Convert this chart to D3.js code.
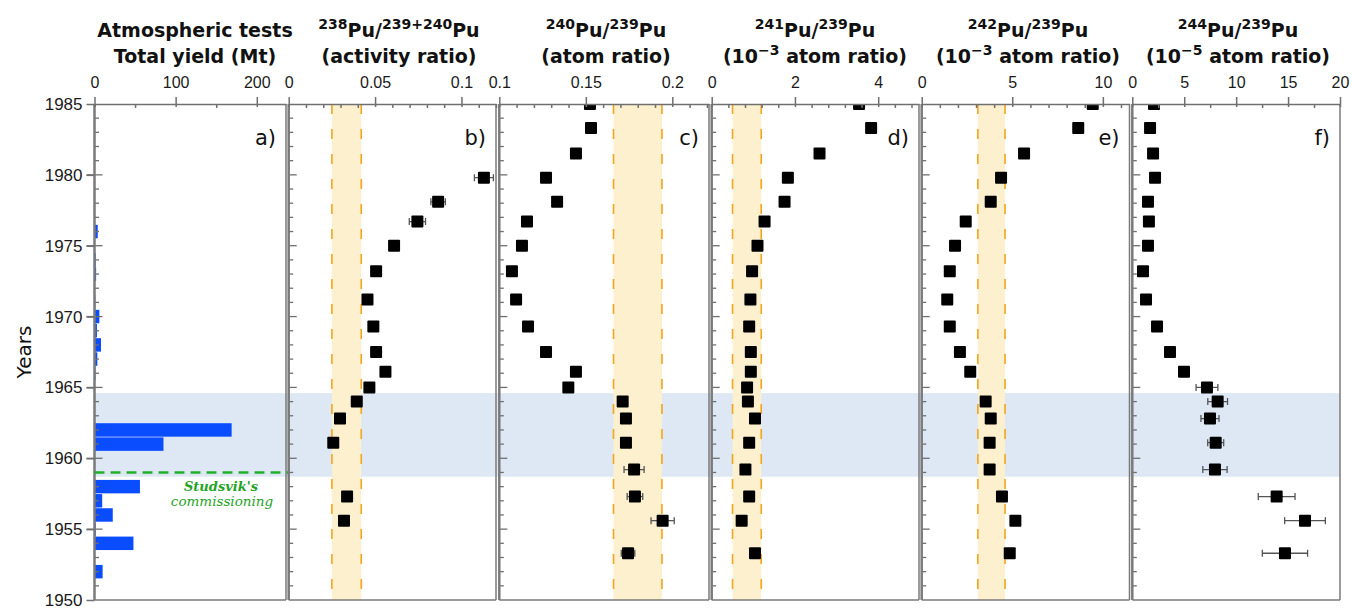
<!DOCTYPE html>
<html>
<head>
<meta charset="utf-8">
<script src="https://cdn.jsdelivr.net/npm/d3@7"></script>
<style>
  body { margin: 0; background: #fff; }
  svg { display: block; font-family: "DejaVu Sans", sans-serif; }
  .axis path, .axis line { stroke: #6f6f6f; stroke-width: 1.5; }
  .axis text { font-size: 16px; fill: #1a1a1a; }
  .title { font-size: 19px; font-weight: bold; fill: #111; }
</style>
</head>
<body>
<svg id="chart" width="1352" height="608"></svg>
<script>
var sampleYears = [1985.0, 1983.3, 1981.5, 1979.8, 1978.1, 1976.7, 1975.0, 1973.2, 1971.2, 1969.3,
                   1967.5, 1966.1, 1965.0, 1964.0, 1962.8, 1961.1, 1959.2, 1957.3, 1955.6, 1953.3];

var pu238Ratio = [null, null, null, 0.113, 0.0865, 0.0745, 0.061, 0.0506, 0.0456, 0.049,
                  0.0506, 0.056, 0.0467, 0.0394, 0.0297, 0.0258, null, 0.0338, 0.032, null];
var pu238Err   = [0, 0, 0, 0.0055, 0.0042, 0.0047, 0, 0, 0, 0, 0, 0, 0, 0, 0, 0, 0, 0.002, 0.002, 0];

var pu240Ratio = [0.1524, 0.153, 0.1443, 0.127, 0.1334, 0.116, 0.1131, 0.1073, 0.1097, 0.1166,
                  0.127, 0.1443, 0.1399, 0.1713, 0.1732, 0.1732, 0.1779, 0.1784, 0.1944, 0.1744];
var pu240Err   = [0, 0, 0, 0, 0, 0, 0, 0, 0, 0, 0, 0, 0, 0, 0, 0, 0.0058, 0.0045, 0.0067, 0.0039];

var pu241Ratio = [3.54, 3.83, 2.59, 1.83, 1.75, 1.27, 1.10, 0.97, 0.93, 0.90,
                  0.94, 0.94, 0.85, 0.87, 1.04, 0.90, 0.81, 0.90, 0.72, 1.04];

var pu242Ratio = [9.44, 8.64, 5.65, 4.38, 3.81, 2.43, 1.84, 1.55, 1.41, 1.55,
                  2.11, 2.68, null, 3.53, 3.81, 3.75, 3.75, 4.43, 5.17, 4.86];

var pu244Ratio = [2.09, 1.71, 2.0, 2.19, 1.51, 1.6, 1.51, 1.03, 1.32, 2.38,
                  3.63, 4.98, 7.19, 8.22, 7.48, 8.03, 7.96, 13.9, 16.63, 14.7];
var pu244Err   = [0, 0, 0, 0, 0, 0, 0, 0, 0, 0, 0, 0, 1.05, 0.95, 0.87, 0.77, 1.17, 1.77, 1.96, 2.18];

// atmospheric tests, total yield per year (Mt)
var testYears  = [1951, 1952, 1953, 1954, 1955, 1956, 1957, 1958, 1961, 1962, 1966, 1967, 1968,
                  1969, 1970, 1971, 1973, 1974, 1976, 1980];
var testYields = [0.6, 10, 0.4, 48, 1.5, 22.5, 9.5, 56, 85, 169, 1.2, 3.5, 8,
                  3, 6, 1, 2, 1.5, 4, 0.6];

// reference ranges (shaded bands)
var bandB = [0.025, 0.042];
var bandC = [0.166, 0.194];
var bandD = [0.5, 1.19];
var bandE = [3.1, 4.6];

var testPeriod = [1958.7, 1964.6];
var studsvikYear = 1959;
var yearTicks = [1950, 1955, 1960, 1965, 1970, 1975, 1980, 1985];

var panels = [
    {key: "a", left: 94.5, right: 286, domain: [0, 236], ticks: [0, 100, 200], minorStep: 50, titleX: 195,
     title: [[["Atmospheric tests"]], [["Total yield (Mt)"]]]},
    {key: "b", left: 288.7, right: 496, domain: [0, 0.12], ticks: [0, 0.05, 0.1], minorStep: 0.01, titleX: 399,
     values: pu238Ratio, err: pu238Err, band: bandB,
     title: [[["238", 1], ["Pu/"], ["239+240", 1], ["Pu"]], [["(activity ratio)"]]]},
    {key: "c", left: 499.3, right: 709, domain: [0.1, 0.2212], ticks: [0.1, 0.15, 0.2], minorStep: 0.01, titleX: 606,
     values: pu240Ratio, err: pu240Err, band: bandC,
     title: [[["240", 1], ["Pu/"], ["239", 1], ["Pu"]], [["(atom ratio)"]]]},
    {key: "d", left: 711.7, right: 919, domain: [0, 4.98], ticks: [0, 2, 4], minorStep: 0.4, titleX: 815,
     values: pu241Ratio, band: bandD,
     title: [[["241", 1], ["Pu/"], ["239", 1], ["Pu"]], [["(10"], ["\u22123", 1], [" atom ratio)"]]]},
    {key: "e", left: 921.7, right: 1129.5, domain: [0, 11.47], ticks: [0, 5, 10], minorStep: 1, titleX: 1028,
     values: pu242Ratio, band: bandE,
     title: [[["242", 1], ["Pu/"], ["239", 1], ["Pu"]], [["(10"], ["\u22123", 1], [" atom ratio)"]]]},
    {key: "f", left: 1132.3, right: 1340, domain: [0, 20], ticks: [0, 5, 10, 15, 20], minorStep: 2.5, titleX: 1238,
     values: pu244Ratio, err: pu244Err,
     title: [[["244", 1], ["Pu/"], ["239", 1], ["Pu"]], [["(10"], ["\u22125", 1], [" atom ratio)"]]]}
];

var plotTop = 104, plotBottom = 600;
var svg = d3.select("#chart");
var y = d3.scaleLinear().domain([1950, 1985]).range([plotBottom, plotTop]);

panels.forEach(function(p) {
    p.x = d3.scaleLinear().domain(p.domain).range([p.left, p.right]);
});

// test period shading spans every panel
svg.append("rect")
    .attr("x", panels[0].left)
    .attr("y", y(testPeriod[1]))
    .attr("width", panels[5].right - panels[0].left)
    .attr("height", y(testPeriod[0]) - y(testPeriod[1]))
    .attr("fill", "#dde8f4");

var defs = svg.append("defs");

function richText(g, parts, x, yPos) {
    var t = g.append("text").attr("class", "title")
        .attr("x", x).attr("y", yPos).attr("text-anchor", "middle");
    var up = false;
    parts.forEach(function(part) {
        var ts = t.append("tspan").text(part[0]);
        if (part[1]) {
            ts.style("font-size", "14px");
            if (!up) { ts.attr("dy", -8); up = true; }
        } else if (up) {
            ts.attr("dy", 8); up = false;
        }
    });
}

panels.forEach(function(p) {
    var g = svg.append("g").attr("class", "panel-" + p.key);
    var x = p.x;

    defs.append("clipPath").attr("id", "clip-" + p.key)
        .append("rect")
        .attr("x", p.left).attr("y", plotTop)
        .attr("width", p.right - p.left).attr("height", plotBottom - plotTop);

    // reference band
    if (p.band) {
        g.append("rect")
            .attr("x", x(p.band[0])).attr("y", plotTop)
            .attr("width", x(p.band[1]) - x(p.band[0]))
            .attr("height", plotBottom - plotTop)
            .attr("fill", "#fdf0cf");
        g.selectAll(".band-edge").data(p.band).enter().append("line")
            .attr("class", "band-edge")
            .attr("x1", x).attr("x2", x)
            .attr("y1", plotTop).attr("y2", plotBottom)
            .attr("stroke", "#f5a41c").attr("stroke-width", 1.6)
            .attr("stroke-dasharray", "10,15");
    }

    // yield bars
    if (p.key === "a") {
        var barH = y(1950) - y(1950.95);
        g.selectAll(".bar").data(testYears).enter().append("rect")
            .attr("class", "bar")
            .attr("x", x(0))
            .attr("y", function(d) { return y(d) - barH / 2; })
            .attr("width", function(d, i) { return x(testYields[i]) - x(0); })
            .attr("height", barH)
            .attr("fill", "#0a4dff");
    }

    // data points
    if (p.values) {
        var pts = p.values.map(function(v, i) {
            return {year: sampleYears[i], v: v, e: p.err ? p.err[i] : 0};
        }).filter(function(d) { return d.v !== null; });

        var data = g.append("g").attr("clip-path", "url(#clip-" + p.key + ")");

        var eb = data.selectAll(".err").data(pts.filter(function(d) { return d.e > 0; }))
            .enter().append("g").attr("class", "err")
            .attr("stroke", "#555").attr("stroke-width", 1.3);
        eb.append("line")
            .attr("x1", function(d) { return x(d.v - d.e); })
            .attr("x2", function(d) { return x(d.v + d.e); })
            .attr("y1", function(d) { return y(d.year); })
            .attr("y2", function(d) { return y(d.year); });
        eb.selectAll(".cap").data(function(d) {
                return [[d.v - d.e, d.year], [d.v + d.e, d.year]];
            }).enter().append("line")
            .attr("x1", function(d) { return x(d[0]); })
            .attr("x2", function(d) { return x(d[0]); })
            .attr("y1", function(d) { return y(d[1]) - 3.5; })
            .attr("y2", function(d) { return y(d[1]) + 3.5; });

        data.selectAll(".pt").data(pts).enter().append("rect")
            .attr("class", "pt")
            .attr("x", function(d) { return x(d.v) - 6; })
            .attr("y", function(d) { return y(d.year) - 6; })
            .attr("width", 12).attr("height", 12)
            .attr("rx", 1)
            .attr("fill", "#000");
    }

    // inner year ticks on the left edge
    var years = d3.range(1951, 1985);
    g.selectAll(".ytick").data(years).enter().append("line")
        .attr("x1", function(d) { return (p.key === "a" && d % 5 === 0) ? p.left - 8 : p.left; })
        .attr("x2", function(d) { return p.left + (d % 5 === 0 ? 8 : 4.5); })
        .attr("y1", y).attr("y2", y)
        .attr("stroke", "#6f6f6f").attr("stroke-width", 1.3);

    // frame
    g.append("line").attr("x1", p.left).attr("x2", p.left).attr("y1", plotTop).attr("y2", plotBottom)
        .attr("stroke", "#7a7a7a").attr("stroke-width", 2.5);
    g.append("line").attr("x1", p.right).attr("x2", p.right).attr("y1", plotTop).attr("y2", plotBottom)
        .attr("stroke", "#7a7a7a").attr("stroke-width", 1.5);
    g.append("line").attr("x1", p.left).attr("x2", p.right).attr("y1", plotBottom).attr("y2", plotBottom)
        .attr("stroke", "#7a7a7a").attr("stroke-width", 1.5);

    // top axis: majors cross the line, minors point inward
    var minors = d3.range(p.domain[0], p.domain[1] + 1e-9, p.minorStep).filter(function(v) {
        return !p.ticks.some(function(t) { return Math.abs(t - v) < 1e-6; });
    });
    g.append("g").attr("class", "axis minor")
        .attr("transform", "translate(0," + plotTop + ")")
        .call(d3.axisTop(x).tickValues(minors).tickSize(-4).tickSizeOuter(0).tickFormat(""))
        .call(function(s) { s.select(".domain").remove(); s.selectAll("line").attr("stroke-width", 1.2); });

    var ax = g.append("g").attr("class", "axis")
        .attr("transform", "translate(0," + plotTop + ")")
        .call(d3.axisTop(x).tickValues(p.ticks).tickSize(7).tickSizeOuter(0)
              .tickFormat(function(d) { return String(d); }));
    ax.selectAll(".tick line").attr("y2", -7).attr("y1", 3);
    ax.selectAll(".tick text").attr("y", -16);

    // titles and panel letter
    richText(g, p.title[0], p.titleX, 37);
    richText(g, p.title[1], p.titleX, 63);

    g.append("text")
        .attr("x", p.right - 10).attr("y", 145)
        .attr("text-anchor", "end")
        .style("font-size", "21px").style("fill", "#111")
        .text(p.key + ")");
});

// left year axis
var yAxis = svg.append("g").attr("class", "axis")
    .attr("transform", "translate(" + panels[0].left + ",0)")
    .call(d3.axisLeft(y).tickValues(yearTicks).tickSize(8).tickSizeOuter(0).tickFormat(d3.format("d")));
yAxis.select(".domain").remove();
yAxis.selectAll(".tick text").style("font-size", "17px").attr("x", -12);

svg.append("text")
    .attr("transform", "translate(31,352) rotate(-90)")
    .attr("text-anchor", "middle")
    .style("font-size", "20px").style("fill", "#111")
    .text("Years");

// Studsvik commissioning marker
var pa = panels[0];
svg.append("line")
    .attr("x1", pa.left).attr("x2", pa.right + 2)
    .attr("y1", y(studsvikYear)).attr("y2", y(studsvikYear))
    .attr("stroke", "#22b02a").attr("stroke-width", 2.5)
    .attr("stroke-dasharray", "10,6");
svg.append("text")
    .attr("x", 221).attr("y", y(studsvikYear) + 19)
    .attr("text-anchor", "middle")
    .style("font-family", "DejaVu Serif, serif").style("font-style", "italic").style("font-weight", "bold")
    .style("font-size", "13px").style("fill", "#1fa425")
    .text("Studsvik's");
svg.append("text")
    .attr("x", 222).attr("y", y(studsvikYear) + 34)
    .attr("text-anchor", "middle")
    .style("font-family", "DejaVu Serif, serif").style("font-style", "italic")
    .style("font-size", "13.5px").style("fill", "#1fa425")
    .text("commissioning");
</script>
</body>
</html>
